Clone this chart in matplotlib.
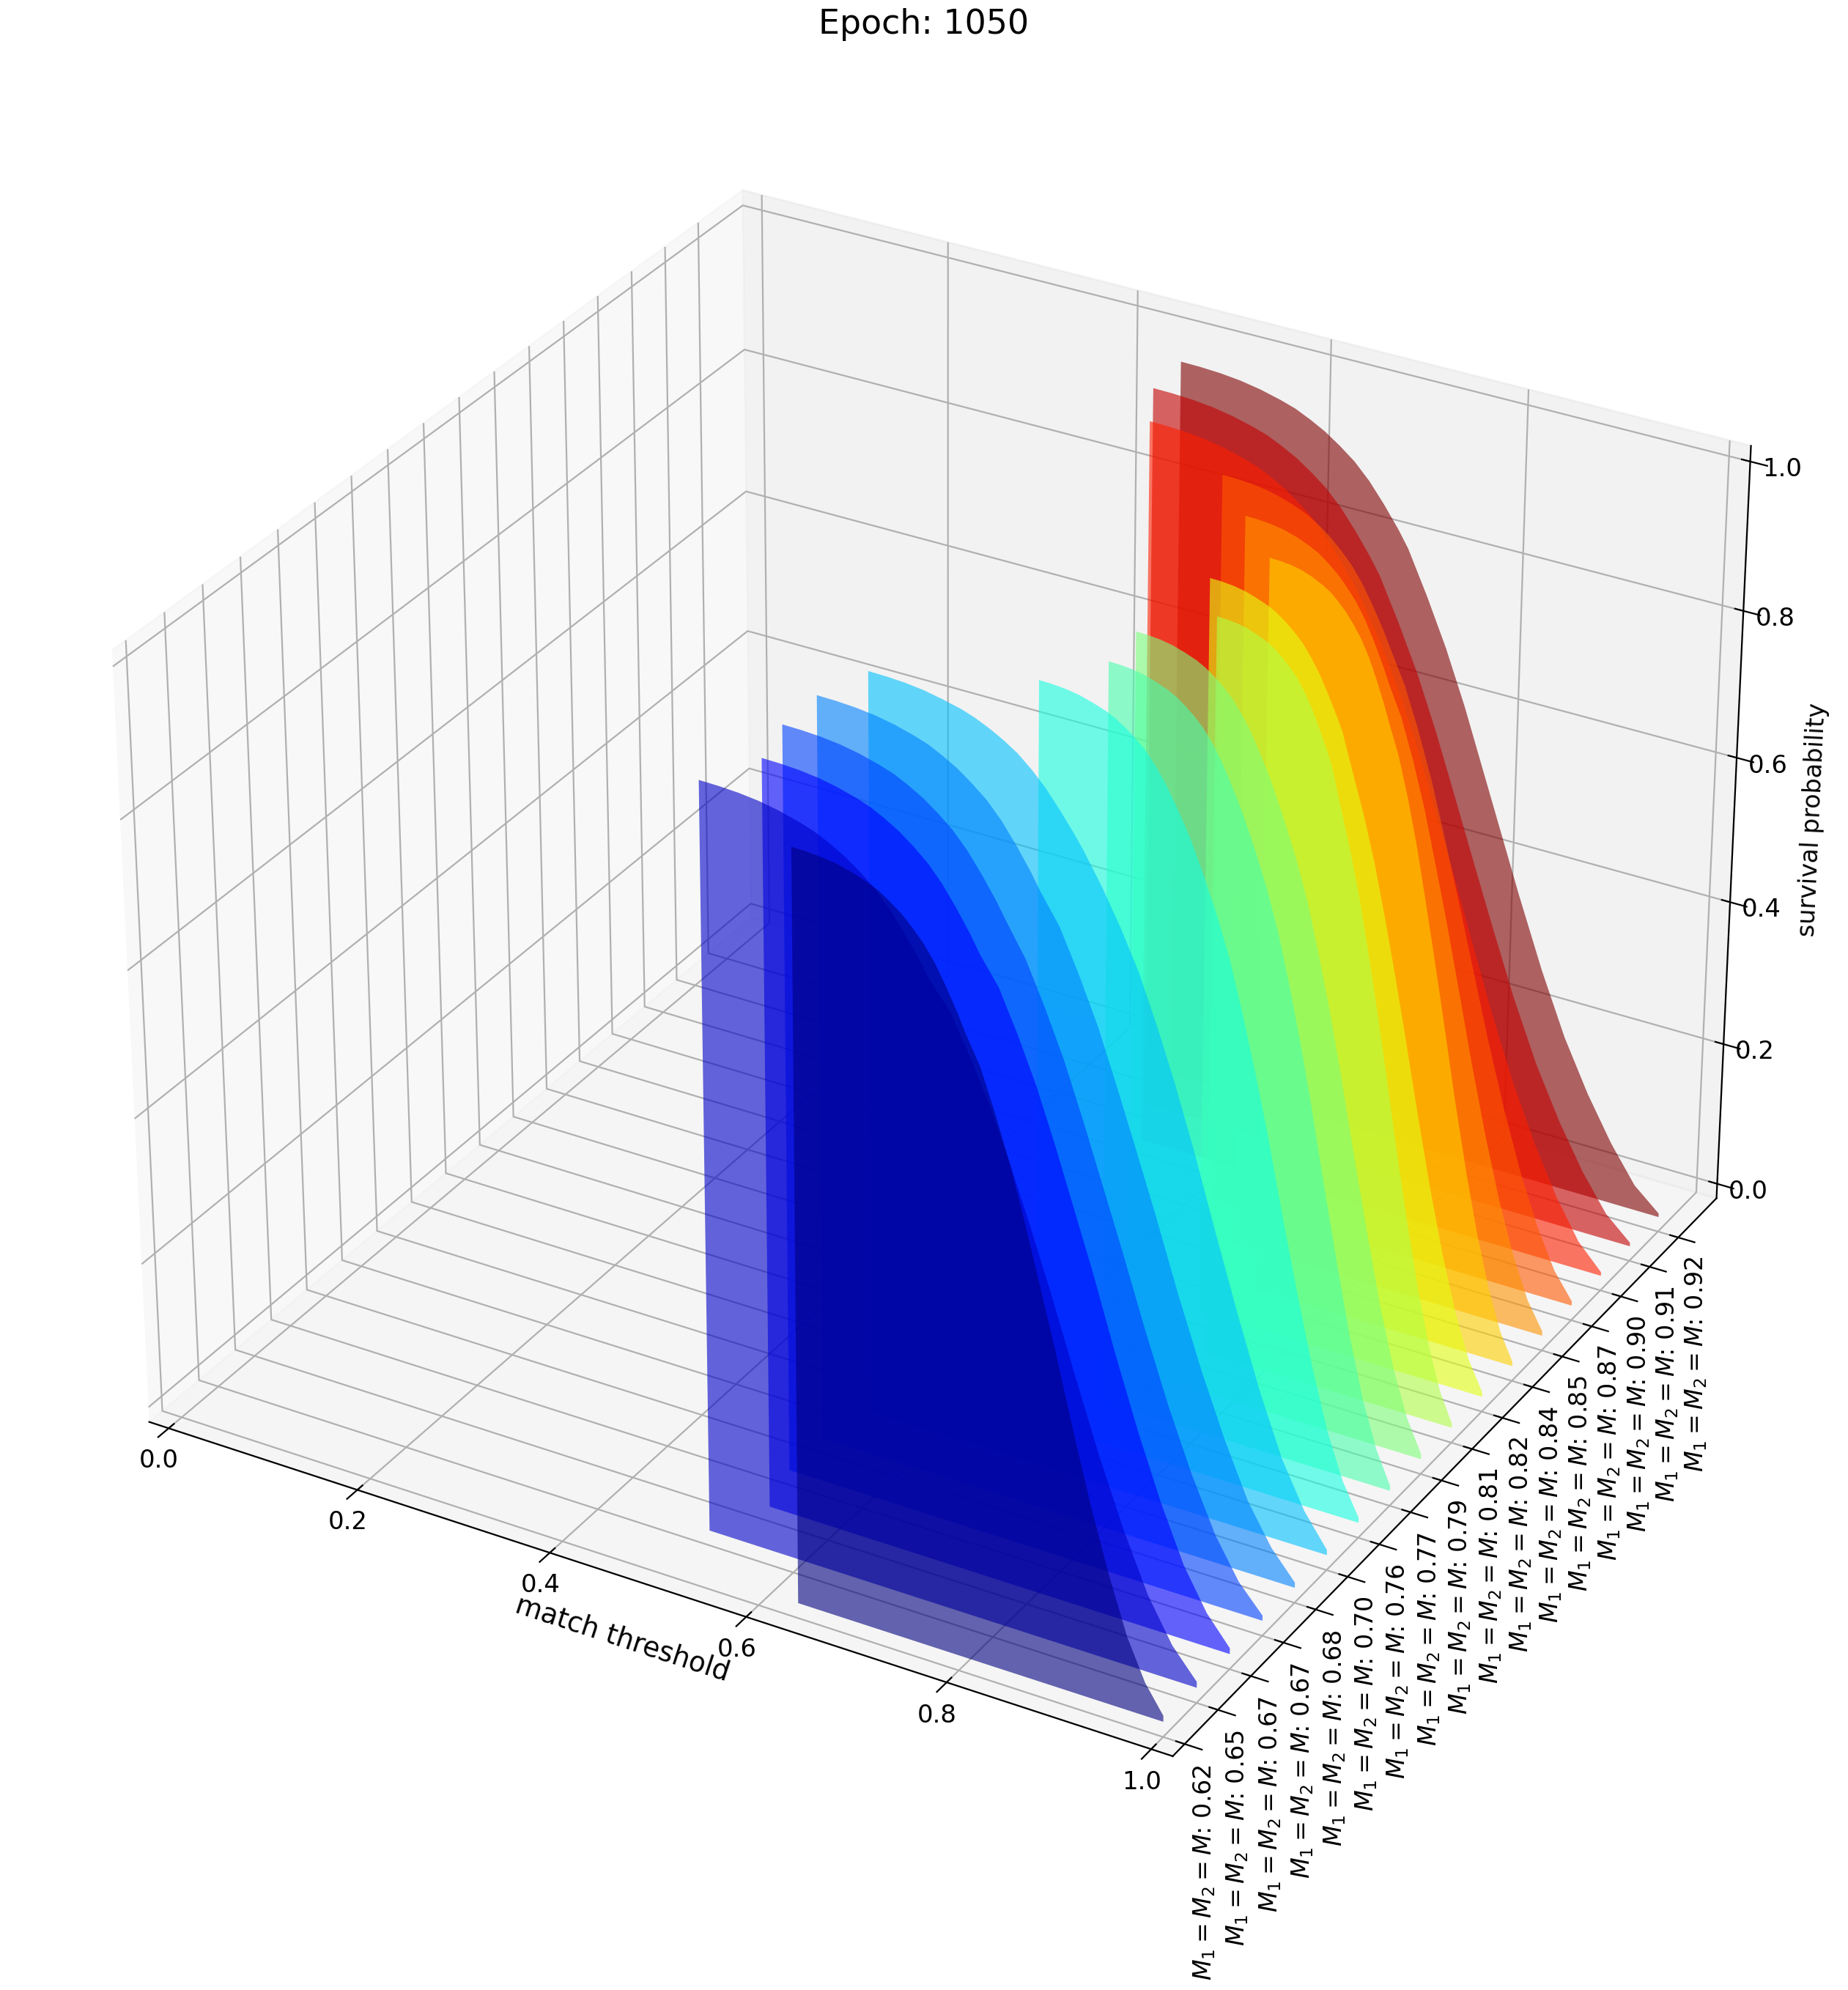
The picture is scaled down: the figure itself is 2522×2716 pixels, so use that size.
import matplotlib
matplotlib.use("Agg")
import matplotlib.pyplot as plt
import numpy as np
from matplotlib.collections import PolyCollection

M_values = ["0.62", "0.65", "0.67", "0.67", "0.68", "0.70", "0.76", "0.77", "0.79",
            "0.81", "0.82", "0.84", "0.85", "0.87", "0.90", "0.91", "0.92"]

start_x = [0.640, 0.515, 0.541, 0.526, 0.525, 0.541, 0.675, 0.710, 0.704,
           0.751, 0.712, 0.739, 0.683, 0.628, 0.522, 0.493, 0.489]

# position along each curve, 0 = where it starts, 1 = x of 1.0
along = [0, .04, .08, .12, .16, .20, .23, .26, .29, .32, .35, .38, .41, .44, .46,
         .50, .54, .58, .62, .66, .70, .75, .80, .85, .90, .95, 1]

head = [1.0, 0.9995, 0.998, 0.995, 0.99, 0.983, 0.9765, 0.967, 0.956, 0.942, 0.926, 0.905, 0.879, 0.85, 0.828]
head2 = [1.0, 0.9995, 0.998, 0.995, 0.99, 0.984, 0.9775, 0.969, 0.959, 0.947, 0.931, 0.912, 0.889, 0.864, 0.846]

p00 = head + [.79, .735, .675, .605, .53, .455, .355, .26, .175, .10, .045, .008]
p01 = head + [.796, .744, .688, .62, .547, .471, .37, .272, .183, .105, .047, .008]
p02 = head + [.792, .738, .678, .608, .533, .458, .357, .262, .176, .101, .046, .008]
p03 = head + [.786, .73, .668, .596, .52, .444, .345, .252, .169, .097, .043, .007]
p04 = head + [.789, .734, .673, .601, .526, .45, .35, .257, .173, .099, .045, .007]
p05 = head2 + [.805, .759, .707, .643, .573, .496, .392, .291, .196, .113, .051, .007]
p06 = head2 + [.804, .758, .705, .64, .569, .493, .388, .288, .194, .112, .05, .007]
p07 = head2 + [.806, .762, .71, .646, .576, .499, .394, .293, .197, .115, .052, .007]
p08 = head2 + [.805, .76, .708, .643, .573, .495, .391, .291, .195, .114, .051, .007]
p09 = head2 + [.793, .741, .682, .613, .539, .461, .36, .265, .178, .104, .045, .006]
p10 = head2 + [.794, .743, .684, .615, .541, .463, .362, .266, .179, .105, .046, .006]
p11 = head + [.787, .733, .67, .597, .522, .444, .344, .252, .169, .099, .043, .006]
p12 = head + [.789, .736, .675, .603, .529, .45, .35, .256, .172, .101, .044, .006]
p13 = head + [.785, .729, .665, .591, .515, .436, .337, .246, .165, .097, .042, .006]
p14 = head + [.78, .722, .655, .579, .502, .423, .325, .236, .159, .093, .039, .005]
p15 = head + [.771, .709, .637, .558, .478, .399, .303, .218, .147, .086, .036, .005]
p16 = head + [.77, .707, .635, .555, .475, .395, .30, .215, .145, .085, .035, .005]

curves = [p00, p01, p02, p03, p04, p05, p06, p07, p08, p09, p10, p11, p12, p13, p14, p15, p16]

fig = plt.figure(figsize=(12.61, 13.58), dpi=200)
ax = fig.add_axes([0.0063, 0.0597, 0.986, 0.9156], projection="3d")
ax.view_init(elev=30, azim=-60)

verts = []
for i in range(len(curves)):
    x = start_x[i] + (1.0 - start_x[i]) * np.array(along)
    pts = [(x[0], 0.0)] + list(zip(x, curves[i])) + [(x[-1], 0.0)]
    verts.append(pts)

colors = [plt.cm.jet(i / (len(curves) - 1)) for i in range(len(curves))]
poly = PolyCollection(verts, facecolors=colors, alpha=0.6)
ax.add_collection3d(poly, zs=np.arange(len(curves)), zdir="y")

ax.set_xlim(0, 1, view_margin=1 / 48)
ax.set_ylim(0, 17, view_margin=1 / 48)
ax.set_zlim(0, 1, view_margin=1 / 48)
ax.set_yticks(np.arange(len(curves)))
ax.set_yticklabels([r"$M_1 = M_2 = M$: " + m for m in M_values], rotation=90, va="top", ha="center")
ax.tick_params(labelsize=12.2)
ax.tick_params(axis="x", pad=-0.8)
ax.tick_params(axis="y", labelsize=12, pad=0.5)
ax.tick_params(axis="z", pad=1.5)
ax.set_xlabel("match threshold", fontsize=13.4, labelpad=-2)
ax.set_zlabel("survival probability", fontsize=12, labelpad=3)
fig.suptitle("Epoch: 1050", fontsize=16.5, x=0.4997, y=0.9875, va="center")

fig.savefig("out.png")
